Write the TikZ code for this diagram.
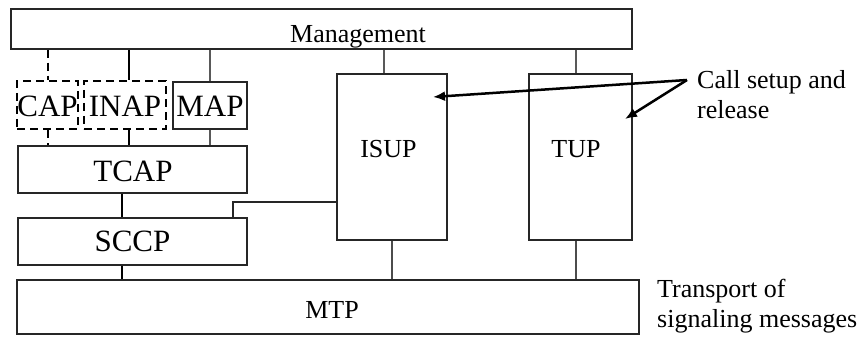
\documentclass[tikz,border=0pt]{standalone}
\usepackage{fontspec}
\setmainfont{Liberation Serif}
\usetikzlibrary{fit,arrows.meta}
\begin{document}
\begin{tikzpicture}[x=1pt,y=-1pt,
  box/.style={draw=black!85, line width=1.5pt, inner sep=0pt},
  dbox/.style={draw=black, line width=2.6pt, dash pattern=on 8pt off 5pt, inner sep=0pt},
  big/.style={font=\fontsize{31}{31}\selectfont, anchor=base, inner sep=0pt},
  med/.style={font=\fontsize{26}{30}\selectfont, anchor=base, inner sep=0pt},
  thinln/.style={draw=black!65, line width=1.5pt},
  thickln/.style={draw=black, line width=2.5pt},
  grayln/.style={draw=black!70, line width=2pt},
  dashln/.style={draw=black, line width=2.5pt, dash pattern=on 8pt off 5pt},
  arr/.style={draw=black, line width=2.5pt, -{Latex[length=12pt,width=10pt]}}]
\useasboundingbox (0,0) rectangle (865,344);
% boxes
\node[box, fit={(11,9) (632,49)}] (mgmt) {};
\node[dbox, fit={(17,81) (78,129)}] (cap) {};
\node[dbox, fit={(84,81) (166,129)}] (inap) {};
\node[box, fit={(173,82) (247,129)}] (map) {};
\node[box, fit={(18,146) (247,193)}] (tcap) {};
\node[box, fit={(18,218) (247,265)}] (sccp) {};
\node[box, fit={(17,280) (639,334)}] (mtp) {};
\node[box, fit={(337,74) (447,240)}] (isup) {};
\node[box, fit={(529,74) (632,240)}] (tup) {};
% texts
\node[med] (mgmtT) at (358,43) {Management};
\node[big] (capT) at (47.5,117) {CAP};
\node[big] (inapT) at (125,117) {INAP};
\node[big] (mapT) at (210,117) {MAP};
\node[big] (tcapT) at (133,182) {TCAP};
\node[big] (sccpT) at (132.5,252) {SCCP};
\node[med] (isupT) at (388.5,158) {ISUP};
\node[med] (tupT) at (576,158) {TUP};
\node[med] (mtpT) at (332,319) {MTP};
\node[med, anchor=north west, align=left] (call) at (697,70) {Call setup and\\release};
\node[med, anchor=north west, align=left] (transp) at (657,279) {Transport of\\signaling messages};
% x positions of connectors
\coordinate (xcap) at (48,0);
\coordinate (xinap) at (129,0);
\coordinate (xmap) at (210,0);
\coordinate (xs) at (122,0);
\coordinate (xisupm) at (384,0);
\coordinate (xisup) at (392,0);
\coordinate (xtup) at (576,0);
\coordinate (xsi) at (233,0);
\coordinate (ysi) at (0,202);
% connectors
\draw[dashln] (mgmt.south -| xcap) -- (cap.north -| xcap);
\draw[thickln] (mgmt.south -| xinap) -- (inap.north -| xinap);
\draw[thinln] (mgmt.south -| xmap) -- (map.north -| xmap);
\draw[dashln] (cap.south -| xcap) -- (tcap.north -| xcap);
\draw[thickln] (inap.south -| xinap) -- (tcap.north -| xinap);
\draw[thinln] (map.south -| xmap) -- (tcap.north -| xmap);
\draw[thickln] (tcap.south -| xs) -- (sccp.north -| xs);
\draw[thickln] (sccp.south -| xs) -- (mtp.north -| xs);
\draw[thinln] (mgmt.south -| xisupm) -- (isup.north -| xisupm);
\draw[thinln] (mgmt.south -| xtup) -- (tup.north -| xtup);
\draw[grayln] (isup.south -| xisup) -- (mtp.north -| xisup);
\draw[grayln] (tup.south -| xtup) -- (mtp.north -| xtup);
\draw[thinln, draw=black!85] (sccp.north -| xsi) |- (isup.west |- ysi);
% arrows
\coordinate (callsrc) at (687,80);
\coordinate (isupin) at (433,97);
\coordinate (tupin) at (625,119);
\draw[arr] (callsrc) -- (isupin);
\draw[arr] (callsrc) -- (tupin);
\end{tikzpicture}
\end{document}
